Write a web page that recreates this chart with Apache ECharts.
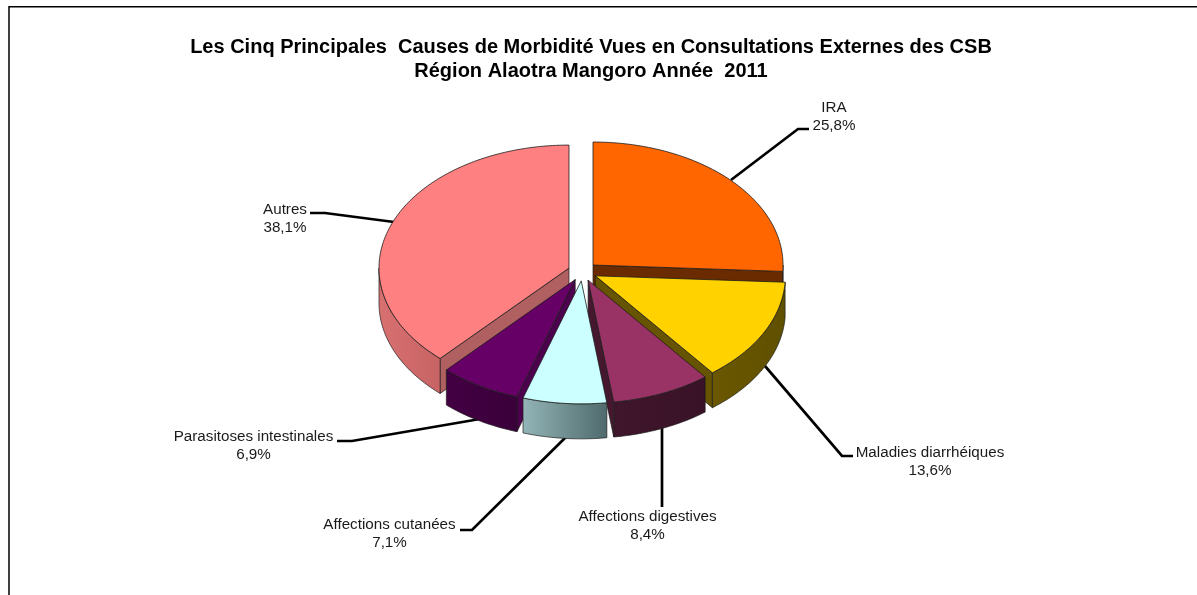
<!DOCTYPE html>
<html><head><meta charset="utf-8">
<style>html,body{margin:0;padding:0;background:#fff}#c{width:1197px;height:595px}</style>
<script src="https://cdn.jsdelivr.net/npm/echarts@6/dist/echarts.min.js"></script>
</head><body><div id="c"></div>
<script>
const titleLines = ['Les Cinq Principales  Causes de Morbidité Vues en Consultations Externes des CSB', 'Région Alaotra Mangoro Année  2011'];
const categories = ['IRA', 'Maladies diarrhéiques', 'Affections digestives', 'Affections cutanées', 'Parasitoses intestinales', 'Autres'];
const values = [25.8, 13.6, 8.4, 7.1, 6.9, 38.1];
const valueLabels = ['25,8%', '13,6%', '8,4%', '7,1%', '6,9%', '38,1%'];
const topColors = ['#FF6600', '#FFD200', '#993366', '#CCFFFF', '#660066', '#FF8080'];
const wallColors = [['#6b2b00', '#6b2b00'], ['#6b5700', '#5f5000'], ['#3f162c', '#3a1228'], ['#93b5b7', '#4f6a6c'], ['#430043', '#3a003a'], ['#d87070', '#c86464']];
const cutColors = ['#6b2b00', '#665400', '#45182f', '#6f8f90', '#4d004d', '#b06060'];

// leader polylines and label centres: page layout, per category
const leaderPaths = [
  [[731, 180], [798, 129], [809, 129]],
  [[765, 366], [842, 456], [853, 456]],
  [[662, 427], [662, 507]],
  [[566, 437], [472, 530], [460, 530]],
  [[480, 419], [352, 441], [337, 441]],
  [[394, 222], [325, 213], [310, 213]]
];
const labelCentres = [[834, 108], [930, 453], [647.5, 517], [389.5, 525], [253.5, 437], [285, 210]];

const pie = {cx: 582.5, cy: 271.5, rx: 190, ry: 123, depth: 35, explode: 14.5};
const total = values.reduce((a, b) => a + b, 0);
let acc = 0;
const spans = values.map(v => { const s = acc; acc += v; return [s / total * 360, acc / total * 360]; });
const rad = d => d * Math.PI / 180;
const ranks = values.map((_, i) => i).sort((a, b) => {
  const m = i => rad((spans[i][0] + spans[i][1]) / 2);
  return Math.cos(m(b)) - Math.cos(m(a));
});
const labelFont = '15.2px "Liberation Sans", Arial, sans-serif';

function renderSlice(params, api) {
  const i = api.value(0);
  const [a0, a1] = spans[i];
  const mid = rad((a0 + a1) / 2), k = pie.ry / pie.rx;
  const cx = pie.cx + pie.explode * Math.sin(mid);
  const cy = pie.cy - pie.explode * k * Math.cos(mid);
  const rim = (deg, dz) => [cx + pie.rx * Math.sin(rad(deg)), cy - pie.ry * Math.cos(rad(deg)) + (dz || 0)];
  const arc = (from, to, dz) => {
    const pts = [], n = Math.max(2, Math.ceil(Math.abs(to - from)));
    for (let j = 0; j <= n; j++) pts.push(rim(from + (to - from) * j / n, dz));
    return pts;
  };
  const edge = '#1c1c1c', z = (ranks.indexOf(i) + 1) * 10;
  const children = [];
  const cut = a => ({type: 'polygon', z2: z, shape: {points: [[cx, cy], rim(a), rim(a, pie.depth), [cx, cy + pie.depth]]},
    style: {fill: cutColors[i], stroke: edge, lineWidth: 0.7}});
  if (Math.sin(rad(a0)) < -1e-6) children.push(cut(a0));
  if (Math.sin(rad(a1)) > 1e-6) children.push(cut(a1));
  const w0 = Math.max(a0, 90), w1 = Math.min(a1, 270);
  if (w1 > w0) {
    children.push({type: 'polygon', z2: z + 1, shape: {points: arc(w0, w1, 0).concat(arc(w1, w0, pie.depth))},
      style: {fill: {type: 'linear', x: 0, y: 0, x2: 1, y2: 0, colorStops: [{offset: 0, color: wallColors[i][0]}, {offset: 1, color: wallColors[i][1]}]}, stroke: edge, lineWidth: 0.7}});
  }
  children.push({type: 'polygon', z2: z + 2, shape: {points: [[cx, cy]].concat(arc(a0, a1, 0))},
    style: {fill: topColors[i], stroke: edge, lineWidth: 0.8}});
  children.push({type: 'polyline', z2: 1, shape: {points: leaderPaths[i]}, style: {fill: 'none', stroke: '#000', lineWidth: 2.7}});
  const lab = labelCentres[i];
  children.push({type: 'text', z2: 200, style: {text: categories[i], x: lab[0], y: lab[1], align: 'center', verticalAlign: 'middle', fill: '#1a1a1a', font: labelFont}});
  children.push({type: 'text', z2: 200, style: {text: valueLabels[i], x: lab[0], y: lab[1] + 18, align: 'center', verticalAlign: 'middle', fill: '#1a1a1a', font: labelFont}});
  return {type: 'group', children};
}

const chart = echarts.init(document.getElementById('c'));
chart.setOption({
  animation: false,
  backgroundColor: '#fff',
  title: {text: titleLines.join('\n'), left: 591, top: 35, padding: 0, textAlign: 'center',
    textStyle: {fontFamily: '"Liberation Sans", Arial, sans-serif', fontWeight: 'bold', fontSize: 20, lineHeight: 24, color: '#000'}},
  graphic: [{type: 'rect', z: -1, shape: {x: 9, y: 6.7, width: 1400, height: 800}, style: {fill: 'none', stroke: '#000', lineWidth: 1.5}}],
  series: [{type: 'custom', coordinateSystem: 'none', renderItem: renderSlice, clip: false, silent: true,
    data: values.map((v, i) => [i, v])}]
});
</script></body></html>
